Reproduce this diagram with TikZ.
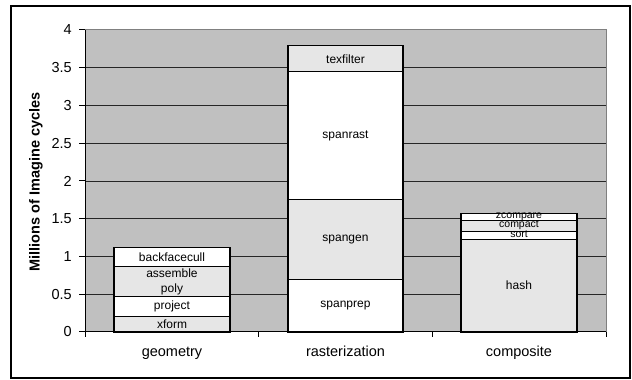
\documentclass[tikz,border=0pt]{standalone}
\usepackage{fontspec}
\setmainfont{Liberation Sans}
\definecolor{plotbg}{HTML}{C0C0C0}
\definecolor{seglight}{HTML}{E6E6E6}
\definecolor{plotedge}{HTML}{808080}
\begin{document}
\begin{tikzpicture}[x=1pt,y=1pt,
  seg/.style={draw=black,line width=1.1pt},
  seglabel/.style={font=\fontsize{12}{15}\selectfont,inner sep=0pt,align=center},
  smalllabel/.style={font=\fontsize{10.5}{11}\selectfont,inner sep=0pt},
  ticklabel/.style={font=\fontsize{14.5}{17}\selectfont,anchor=east,inner sep=0pt},
  catlabel/.style={font=\fontsize{14.5}{17}\selectfont,anchor=base,inner sep=0pt},
  gridline/.style={black!85,line width=0.8pt},
  axisline/.style={black,line width=1pt}]
\useasboundingbox (0,0) rectangle (632,380);
% chart frame
\draw[line width=1.2pt] (11,2) rectangle (630,374);
% y-axis title
\node[font=\bfseries\fontsize{14.5}{17}\selectfont,rotate=90,inner sep=0pt] (ytitle) at (36,198) {Millions of Imagine cycles};
\begin{scope}[shift={(0,48)},y=75.5pt]
  % plot area and grid
  \fill[plotbg] (85,0) rectangle (606,4);
  \draw[plotedge,line width=1pt] (85,4) -- (606,4) -- (606,0);
  \foreach \v in {0.5,1,1.5,2,2.5,3,3.5}
    \draw[gridline] (85,\v) -- (606,\v);
  % value axis
  \draw[axisline] (85,0) -- (85,4);
  \foreach \v/\t [count=\i] in {0/0,0.5/0.5,1/1,1.5/1.5,2/2,2.5/2.5,3/3,3.5/3.5,4/4} {
    \draw[axisline] (79,\v) -- (85,\v);
    \node[ticklabel] (tick\i) at (72,\v) {\t};
  }
  % category axis
  \draw[axisline] (85,0) -- (606,0);
  \foreach \x in {85,258.7,432.3,606}
    \draw[axisline] (\x,0) -- ++(0,-5pt);
  % stacked segments: left/right/bottom/top/fill
  \foreach \xa/\xb/\ya/\yb/\c in {
      114/230/0/0.2/seglight, 114/230/0.2/0.47/white,
      114/230/0.47/0.865/seglight, 114/230/0.865/1.12/white,
      288/403/0/0.7/white, 288/403/0.7/1.757/seglight,
      288/403/1.757/3.448/white, 288/403/3.448/3.79/seglight,
      461/577/0/1.228/seglight, 461/577/1.228/1.33/white,
      461/577/1.33/1.474/seglight, 461/577/1.474/1.572/white}
    \filldraw[seg,fill=\c] (\xa,\ya) rectangle (\xb,\yb);
  % segment labels
  \node[seglabel] (xform) at (172,0.1) {xform};
  \node[seglabel] (project) at (172,0.335) {project};
  \node[seglabel] (assemble) at (172,0.6675) {assemble\\poly};
  \node[seglabel] (backfacecull) at (172,0.9925) {backfacecull};
  \node[seglabel] (spanprep) at (345.5,0.35) {spanprep};
  \node[seglabel] (spangen) at (345.5,1.2285) {spangen};
  \node[seglabel] (spanrast) at (345.5,2.6025) {spanrast};
  \node[seglabel] (texfilter) at (345.5,3.619) {texfilter};
  \node[seglabel] (hash) at (519,0.614) {hash};
  \node[smalllabel] (sort) at (519,1.29) {sort};
  \node[smalllabel] (compact) at (519,1.41) {compact};
  \node[smalllabel] (zcompare) at (519,1.53) {zcompare};
\end{scope}
% category labels
\node[catlabel] (geometry) at (172,23.2) {geometry};
\node[catlabel] (rasterization) at (345.5,23.2) {rasterization};
\node[catlabel] (composite) at (519,23.2) {composite};
\end{tikzpicture}
\end{document}
